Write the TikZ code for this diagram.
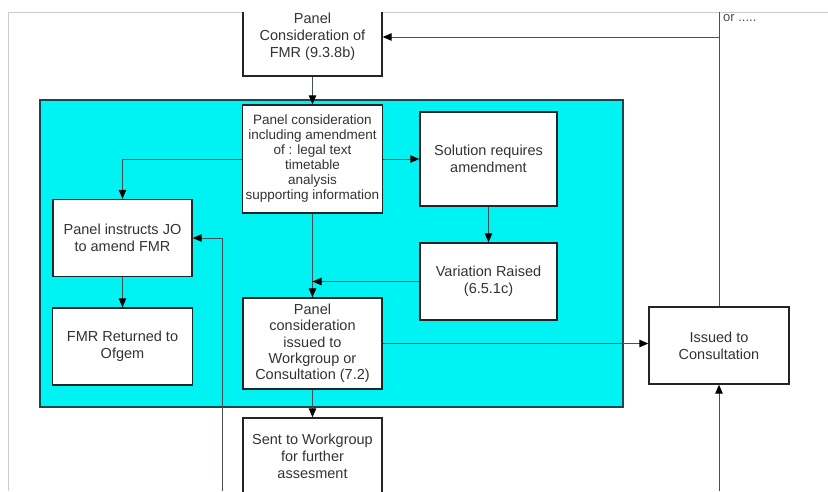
\documentclass[tikz,border=0pt]{standalone}
\usepackage{fontspec}
\setmainfont{Liberation Sans}
\usetikzlibrary{arrows.meta}
\definecolor{panelcyan}{RGB}{0,243,243}
\definecolor{paneledge}{RGB}{25,70,80}
\definecolor{boxedge}{RGB}{35,35,40}
\definecolor{linkgrey}{RGB}{70,80,85}

\begin{document}
\begin{tikzpicture}[x=1pt, y=-1pt,
	box/.style={draw=boxedge, fill=white, line width=1.4pt, align=center, inner sep=0pt,
		text=black!80, font=\fontsize{14.5}{17}\selectfont},
	link/.style={draw=linkgrey, line width=1pt},
	tip/.style={-{Triangle[length=9pt,width=7.5pt,color=black]}}]
	\useasboundingbox (0,0) rectangle (828,491);
	\clip (0,12) rectangle (828,491);
	\draw[black!20, line width=1pt] (8,491) -- (8,12.5) -- (828,12.5);
	\draw[fill=panelcyan, draw=paneledge, line width=1.2pt] (40,100) rectangle (623,407);

	\node[box, minimum width=139pt, minimum height=78pt] (fmr) at (312.5,37) {Panel\\Consideration of\\FMR (9.3.8b)};
	\node[box, minimum width=140pt, minimum height=108pt, font=\fontsize{13.5}{15}\selectfont] (panel) at (312.5,159)
		{Panel consideration\\including amendment\\of : legal text\\timetable\\analysis\\supporting information};
	\node[box, minimum width=137pt, minimum height=94pt] (solution) at (488.5,159) {Solution requires\\amendment};
	\node[box, minimum width=137pt, minimum height=77pt] (variation) at (488.5,281.5) {Variation Raised\\(6.5.1c)};
	\node[box, minimum width=139pt, minimum height=77pt] (instructs) at (122.5,238) {Panel instructs JO\\to amend FMR};
	\node[box, minimum width=140pt, minimum height=77pt] (returned) at (122.5,346.5) {FMR Returned to\\Ofgem};
	\node[box, minimum width=139pt, minimum height=91pt, font=\fontsize{14.5}{16.3}\selectfont] (issued) at (312.5,343.5)
		{Panel\\consideration\\issued to\\Workgroup or\\Consultation (7.2)};
	\node[box, minimum width=140pt, minimum height=77pt] (consult) at (719,345.5) {Issued to\\Consultation};
	\node[box, minimum width=139pt, minimum height=76pt] (sent) at (312.5,456) {Sent to Workgroup\\for further\\assesment};
	\node[anchor=west, inner sep=0pt, text=black!70, font=\fontsize{13}{15}\selectfont] (ornote) at (723,18) {or .....};

	\coordinate (pagetop) at (719,12);
	\coordinate (consultfoot) at (719,491);
	\coordinate (jofoot) at (222,491);

	\draw[link, tip] (fmr) -- (panel);
	\draw[link, tip] (panel.west) -| (instructs.north);
	\draw[link, tip] (panel) -- (solution);
	\draw[link, tip] (solution) -- (variation);
	\draw[link, tip] (panel) -- (issued);
	\draw[link, tip] (variation.west) -- (variation.west -| panel.south);
	\draw[link, tip] (issued.east) -- (issued.east -| consult.west);
	\draw[link, tip] (instructs) -- (returned);
	\draw[link, tip] (issued) -- (sent);
	\draw[link, tip] (consultfoot) -- (consult);
	\draw[link, tip] (jofoot) |- (instructs.east);
	\draw[link] (pagetop) -- (consult);
	\draw[link, tip] (pagetop |- fmr.east) -- (fmr.east);
\end{tikzpicture}
\end{document}
